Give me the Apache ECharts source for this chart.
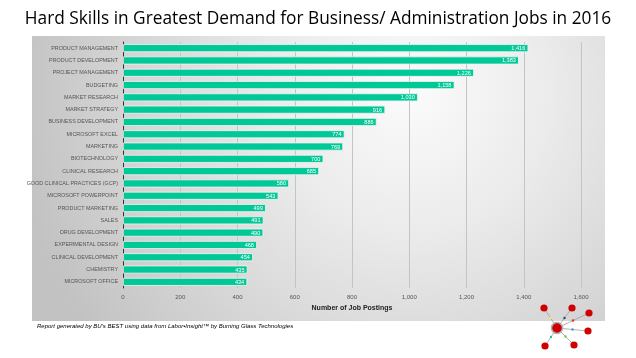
<!DOCTYPE html>
<html>
<head>
<meta charset="utf-8">
<script src="https://cdn.jsdelivr.net/npm/echarts@6/dist/echarts.min.js"></script>
<style>html,body{margin:0;padding:0;background:#fff}#c{width:636px;height:358px}</style>
</head>
<body>
<div id="c"></div>
<script>
const categories = ["PRODUCT MANAGEMENT","PRODUCT DEVELOPMENT","PROJECT MANAGEMENT","BUDGETING","MARKET RESEARCH","MARKET STRATEGY","BUSINESS DEVELOPMENT","MICROSOFT EXCEL","MARKETING","BIOTECHNOLOGY","CLINICAL RESEARCH","GOOD CLINICAL PRACTICES (GCP)","MICROSOFT POWERPOINT","PRODUCT MARKETING","SALES","DRUG DEVELOPMENT","EXPERIMENTAL DESIGN","CLINICAL DEVELOPMENT","CHEMISTRY","MICROSOFT OFFICE"];
const postings = [1416,1383,1226,1158,1030,916,886,774,769,700,685,580,543,499,491,490,468,454,435,434];
const xTicks = [0,200,400,600,800,1000,1200,1400,1600];

const chart = echarts.init(document.getElementById('c'));
const fmt = v => v.toLocaleString('en-US');

// logo nodes
const hub = [557, 328];
const nodes = [[544,308,'#f5e663'],[572,308,'#2a4a6a'],[589,313,'#ff2222'],[588,331,'#4a90d9'],[574,345,'#7acb3a'],[545,346,'#20c0a0']];
const logo = [];
nodes.forEach(n => {
  logo.push({type:'line', shape:{x1:hub[0],y1:hub[1],x2:n[0],y2:n[1]}, style:{stroke:'#a0a0a0',lineWidth:0.8}, z:10});
});
nodes.forEach(n => {
  logo.push({type:'circle', shape:{cx:n[0],cy:n[1],r:3.6}, style:{fill:'#d00000'}, z:11});
  logo.push({type:'circle', shape:{cx:(hub[0]+n[0])/2,cy:(hub[1]+n[1])/2,r:1.2}, style:{fill:n[2]}, z:11});
});
logo.push({type:'circle', shape:{cx:hub[0],cy:hub[1],r:5.5}, style:{fill:'#d00000',stroke:'#b0b0b0',lineWidth:1.5}, z:12});

chart.setOption({
  animation:false,
  title:{
    text:'Hard Skills in Greatest Demand for Business/ Administration Jobs in 2016',
    left:'center', top:6,
    textStyle:{fontFamily:'Open Sans', fontWeight:'normal', fontSize:17.3, color:'#000'}
  },
  graphic:[
    {type:'rect', shape:{x:32,y:36,width:573,height:285}, z:-10,
     style:{fill:new echarts.graphic.RadialGradient(0.66,0.2,1.4,[{offset:0,color:'#fbfbfb'},{offset:0.35,color:'#ebebeb'},{offset:0.75,color:'#d2d2d2'},{offset:1,color:'#c2c2c2'}])}},
    {type:'text', left:37, top:323, z:5,
     style:{text:"Report generated by BU's BEST using data from Labor•Insight™ by Burning Glass Technologies",
            font:'italic 6px "Liberation Sans"', fill:'#000'}},
    ...logo
  ],
  grid:{left:123, right:55, top:42, bottom:70},
  xAxis:{
    type:'value', min:0, max:1600, interval:200,
    name:'Number of Job Postings', nameLocation:'middle', nameGap:16,
    nameTextStyle:{fontFamily:'Liberation Sans', fontWeight:'bold', fontSize:7, color:'#222'},
    axisLabel:{formatter:v=>fmt(v), fontSize:6, color:'#555', fontFamily:'Liberation Sans', margin:6},
    axisLine:{show:false}, axisTick:{show:false},
    splitLine:{show:true, lineStyle:{color:'#c4c4c4', width:1}}
  },
  yAxis:{
    type:'category', data:categories, inverse:true,
    axisLabel:{fontSize:5.4, color:'#555', fontFamily:'Liberation Sans', margin:5},
    axisLine:{show:true, lineStyle:{color:'#333', width:1}}, axisTick:{show:false}
  },
  series:[{
    type:'bar', data:postings, barWidth:8,
    itemStyle:{color:'#00c896', borderColor:'#f4f4f4', borderWidth:0.8},
    label:{show:true, position:'insideRight', distance:3, formatter:p=>fmt(p.value), color:'#fff', fontSize:5.6, fontFamily:'Liberation Sans', offset:[0,0.5]}
  }]
});
</script>
</body>
</html>
